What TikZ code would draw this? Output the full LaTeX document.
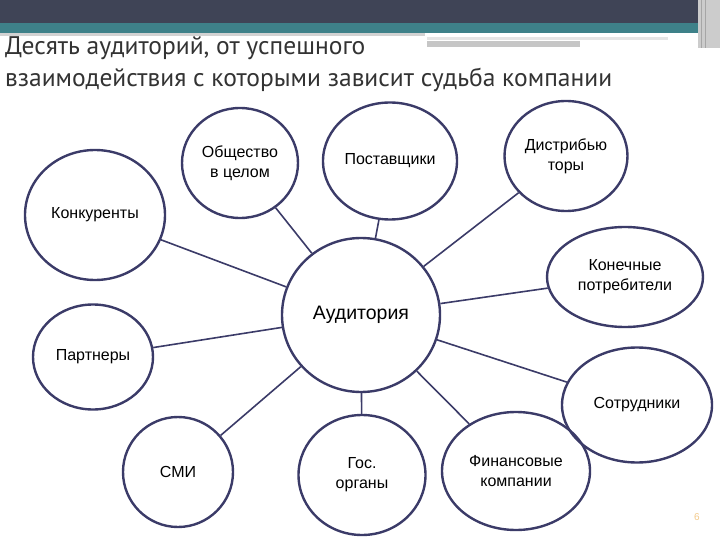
\documentclass[tikz,border=0pt]{standalone}
\usepackage{fontspec}
\setmainfont{Liberation Sans}
\newfontfamily\titlefont{PT Sans}
\usetikzlibrary{shapes.geometric}
\definecolor{barslate}{HTML}{3F4456}
\definecolor{barteal}{HTML}{3E8189}
\definecolor{ringblue}{HTML}{3B3B68}
\definecolor{titlegray}{HTML}{333333}
\definecolor{pagenum}{HTML}{F2C98A}
\tikzset{
  ring/.style={ellipse, draw=ringblue, line width=2.4pt, inner sep=0pt, align=center,
    font=\fontsize{16}{20}\selectfont},
  spoke/.style={draw=ringblue, line width=1.6pt},
  headline/.style={anchor=base west, inner sep=0pt, text=titlegray,
    font=\titlefont\fontsize{25.5}{30}\selectfont}
}

\begin{document}
\begin{tikzpicture}[x=1pt, y=-1pt]
  \useasboundingbox (0,0) rectangle (720,540);
  % slide header bars
  \fill[barslate] (0,0) rectangle (700,23);
  \fill[barteal] (0,23) rectangle (700,33);
  \fill[gray!35] (0,33) rectangle (425,36);
  \fill[gray!20] (427,37) rectangle (668,40);
  \fill[gray!45] (427,41) rectangle (580,47);
  \fill[gray!40] (698,0) rectangle (720,48);
  \draw[gray!70, line width=1pt] (701,0) -- (701,48) (705,0) -- (705,48);
  \node[headline] (title1) at (5,55) {Десять аудиторий, от успешного};
  \node[headline] (title2) at (5,87) {взаимодействия с которыми зависит судьба компании};
  % centre and the ten audiences
  \node[ring, minimum width=158pt, minimum height=154pt, font=\fontsize{19.5}{22}\selectfont] (aud) at (361,315) {Аудитория};
  \foreach \name/\x/\y/\w/\h/\txt in {
      obsh/240/163/116/110/{Общество\\в целом},
      post/390/161/134/117/{Поставщики},
      distr/566/156/123/110/{Дистрибью\\торы},
      konk/95/215/140/130/{Конкуренты},
      potr/625/277/156/100/{Конечные\\потребители},
      partn/93/357/120/105/{Партнеры},
      sotr/637/405/150/115/{Сотрудники},
      smi/178/472/110/110/{СМИ},
      gos/362/475/127/120/{Гос.\\органы},
      fin/516/471/148/118/{Финансовые\\компании}} {
    \node[ring, minimum width=\w pt, minimum height=\h pt] (\name) at (\x,\y) {\txt};
    \draw[spoke] (aud) -- (\name);
  }
  \node[font=\fontsize{10}{12}\selectfont, text=pagenum] (page) at (697,517) {6};
\end{tikzpicture}
\end{document}
